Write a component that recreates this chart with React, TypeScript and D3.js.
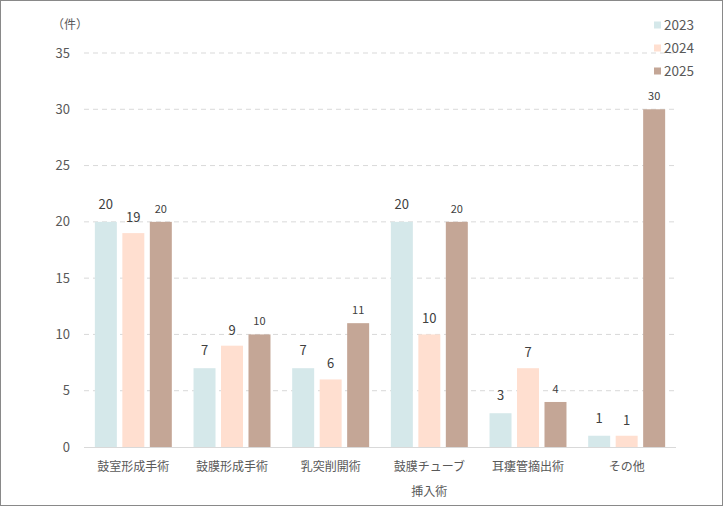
import * as d3 from 'd3';
import { useEffect } from 'react';

const categories = ['鼓室形成手術', '鼓膜形成手術', '乳突削開術', '鼓膜チューブ挿入術', '耳瘻管摘出術', 'その他'];
const categoryLines = [['鼓室形成手術'], ['鼓膜形成手術'], ['乳突削開術'], ['鼓膜チューブ', '挿入術'], ['耳瘻管摘出術'], ['その他']];
const seriesNames = ['2023', '2024', '2025'];
const values2023 = [20, 7, 7, 20, 3, 1];
const values2024 = [19, 9, 6, 10, 7, 1];
const values2025 = [20, 10, 11, 20, 4, 30];
const yTicks = [0, 5, 10, 15, 20, 25, 30, 35];

const seriesValues = [values2023, values2024, values2025];
const colors = ['#d5e8ea', '#ffdfd0', '#c4a696'];
const labelSize = [13, 13, 11];
const labelGap = [13, 11, 9];

const width = 723;
const height = 506;
const margin = { top: 53, right: 47, bottom: 59, left: 84 };
const font = '"Noto Sans CJK JP", "Noto Sans", sans-serif';
const textColor = '#595959';

export default function App() {
  useEffect(() => {
    document.body.style.margin = '0';
  }, []);

  const innerW = width - margin.left - margin.right;
  const innerH = height - margin.top - margin.bottom;

  const x0 = d3.scaleBand<string>().domain(categories).range([0, innerW]).paddingInner(0.22).paddingOuter(0.11);
  const x1 = d3.scaleBand<string>().domain(seriesNames).range([0, x0.bandwidth()]).paddingInner(0.2);
  const y = d3.scaleLinear().domain([0, 35]).range([innerH, 0]);

  return (
    <svg width={width} height={height} style={{ display: 'block', fontFamily: font }}>
      <rect x={0.5} y={0.5} width={width - 1} height={height - 1} fill="#fff" stroke="#898989" />
      <g transform={`translate(${margin.left},${margin.top})`}>
        {/* grid */}
        {yTicks.map((t) => (
          <g key={t}>
            {t > 0 && (
              <line x1={0} x2={innerW} y1={y(t)} y2={y(t)} stroke="#d9d9d9" strokeDasharray="5,4" />
            )}
            <text x={-14} y={y(t)} dy="0.35em" textAnchor="end" fontSize={13} fill={textColor}>
              {t}
            </text>
          </g>
        ))}
        <text x={-32} y={-28} dy="0.35em" textAnchor="start" fontSize={12} fill={textColor}>
          （件）
        </text>

        {/* bars */}
        {categories.map((c, ci) => (
          <g key={c} transform={`translate(${x0(c)},0)`}>
            {seriesNames.map((s, si) => {
              const v = seriesValues[si][ci];
              const bx = x1(s) ?? 0;
              return (
                <g key={s}>
                  <rect x={bx} y={y(v)} width={x1.bandwidth()} height={innerH - y(v)} fill={colors[si]} />
                  <text
                    x={bx + x1.bandwidth() / 2}
                    y={y(v) - labelGap[si]}
                    textAnchor="middle"
                    fontSize={labelSize[si]}
                    fill="#404040"
                  >
                    {v}
                  </text>
                </g>
              );
            })}
          </g>
        ))}

        {/* x axis */}
        <line x1={0} x2={innerW} y1={innerH + 0.5} y2={innerH + 0.5} stroke="#d9d9d9" />
        {categories.map((c, ci) => (
          <text
            key={c}
            x={(x0(c) ?? 0) + x0.bandwidth() / 2}
            y={innerH + 20}
            dy="0.35em"
            textAnchor="middle"
            fontSize={12}
            fill={textColor}
          >
            {categoryLines[ci].map((line, li) => (
              <tspan key={li} x={(x0(c) ?? 0) + x0.bandwidth() / 2} dy={li === 0 ? '0.35em' : 25}>
                {line}
              </tspan>
            ))}
          </text>
        ))}
      </g>

      {/* legend */}
      {seriesNames.map((s, si) => (
        <g key={s} transform={`translate(654,${25 + si * 23})`}>
          <rect x={0} y={-3.5} width={7} height={7} fill={colors[si]} />
          <text x={10} y={0} dy="0.35em" fontSize={13.5} fill={textColor}>
            {s}
          </text>
        </g>
      ))}
    </svg>
  );
}
